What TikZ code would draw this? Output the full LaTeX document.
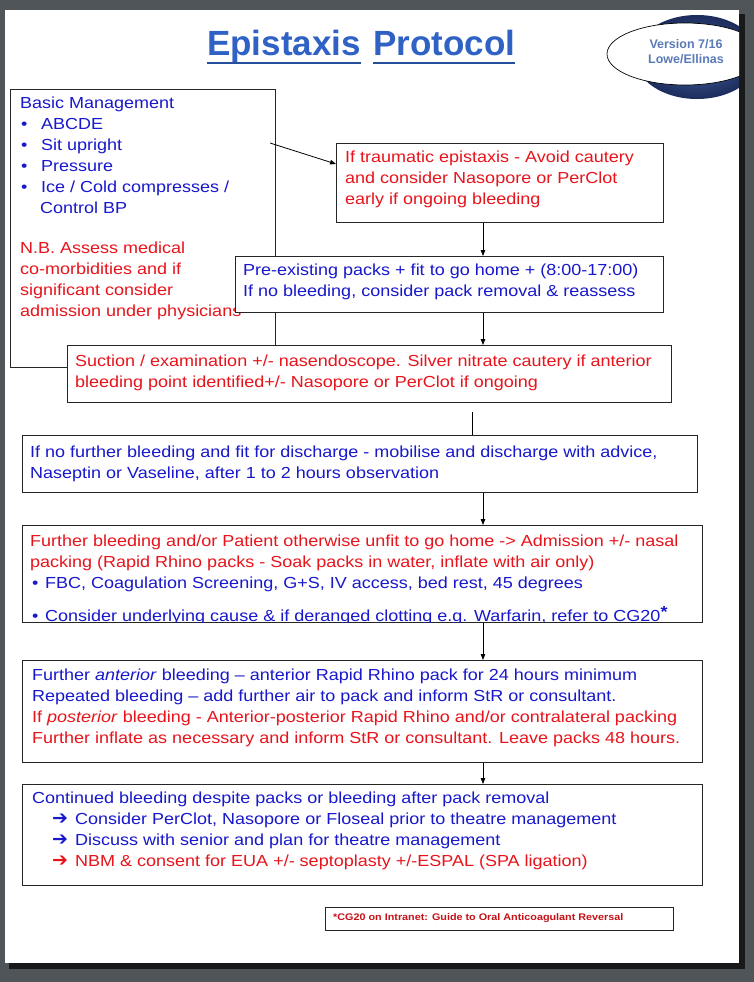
\documentclass[tikz,border=0pt]{standalone}
\usepackage{fontspec}
\setmainfont{Liberation Sans}[FakeStretch=1.125]
\newfontfamily\titlefont{Liberation Sans}
\newfontfamily\symfont{DejaVu Sans}
\usetikzlibrary{arrows.meta,positioning}
\definecolor{pgred}{HTML}{E8141C}
\definecolor{pgblue}{HTML}{1818CC}
\definecolor{titleblue}{HTML}{2F62C4}
\definecolor{verblue}{HTML}{5A7AB8}
\definecolor{desk}{HTML}{50555A}
\definecolor{ballin}{HTML}{4A6AA8}
\definecolor{ballout}{HTML}{1C2C5C}
\tikzset{
  box/.style={draw=black!85, line width=0.8pt, fill=white, anchor=north west, inner sep=0pt},
  txt/.style={anchor=north west, align=left, inner sep=0pt, font=\fontsize{16}{21}\selectfont},
  flow/.style={-{Triangle[length=6pt,width=4.5pt]}, line width=0.8pt},
}
\newcommand{\bul}{\makebox[20pt][l]{\textbullet}}
\newcommand{\arr}[1]{\hspace*{20pt}\makebox[23pt][l]{\textcolor{#1}{\fontsize{19}{21}\symfont\bfseries ➔}}}
\begin{document}
\begin{tikzpicture}[x=1pt, y=-1pt]
    % Desk and page
    \fill[desk] (0,0) rectangle (754,982);
    \fill[black!70!desk] (9,14) rectangle (745,969);
    \fill[white] (5,10) rectangle (739,963);
    \useasboundingbox (0,0) rectangle (754,982);

    % Title
    \node[anchor=base west, inner sep=0pt, font=\fontsize{35}{35}\titlefont\bfseries, text=titleblue] (title-a) at (207,56) {Epistaxis};
    \node[anchor=base west, inner sep=0pt, font=\fontsize{35}{35}\titlefont\bfseries, text=titleblue] (title-b) at (373,56) {Protocol};
    \draw[titleblue!80!black, line width=2.5pt] ([yshift=-7pt]title-a.base west) -- ([yshift=-7pt]title-a.base east);
    \draw[titleblue!80!black, line width=2.5pt] ([yshift=-7pt]title-b.base west) -- ([yshift=-7pt]title-b.base east);

    % Version label
    \begin{scope}
        \clip (5,10) rectangle (739,963);
        \shade[inner color=ballin, outer color=ballout] (697,57) ellipse [x radius=62, y radius=42];
        \draw[fill=white, line width=0.7pt] (685,54) ellipse [x radius=78, y radius=31];
    \end{scope}
    \node[align=center, inner sep=0pt, font=\fontsize{12.5}{15}\titlefont\bfseries, text=verblue] (version) at (686,52) {Version 7/16\\Lowe/Ellinas};

    % Basic management
    \node[box, minimum width=265pt, minimum height=278pt] (basic) at (10,89) {};
    \node[txt] (basic-t) at (20,97) {\textcolor{pgblue}{Basic Management}\\
        \textcolor{pgblue}{\hspace*{1pt}\bul ABCDE}\\
        \textcolor{pgblue}{\hspace*{1pt}\bul Sit upright}\\
        \textcolor{pgblue}{\hspace*{1pt}\bul Pressure}\\
        \textcolor{pgblue}{\hspace*{1pt}\bul Ice / Cold compresses /}\\
        \textcolor{pgblue}{\hspace*{20pt}Control BP}\\[19pt]
        \textcolor{pgred}{N.B. Assess medical}\\
        \textcolor{pgred}{co-morbidities and if}\\
        \textcolor{pgred}{significant consider}\\
        \textcolor{pgred}{admission under physicians}};

    % Traumatic epistaxis
    \node[box, minimum width=327pt, minimum height=79pt] (trauma) at (336,143) {};
    \node[txt, text=pgred] (trauma-t) at (345,151) {If traumatic epistaxis - Avoid cautery\\and consider Nasopore or PerClot\\early if ongoing bleeding};

    % Pre-existing packs
    \node[box, minimum width=428pt, minimum height=56pt] (packs) at (235,256) {};
    \node[txt, text=pgblue] (packs-t) at (243,264) {Pre-existing packs + fit to go home + (8:00-17:00)\\If no bleeding, consider pack removal \& reassess};

    % Suction / examination
    \node[box, minimum width=604pt, minimum height=57pt] (suction) at (67,345) {};
    \node[txt, text=pgred] (suction-t) at (75,355) {Suction / examination +/- nasendoscope. Silver nitrate cautery if anterior\\bleeding point identified+/- Nasopore or PerClot if ongoing};

    % Discharge
    \node[box, minimum width=675pt, minimum height=57pt] (discharge) at (22,435) {};
    \node[txt, text=pgblue] (discharge-t) at (30,446) {If no further bleeding and fit for discharge - mobilise and discharge with advice,\\Naseptin or Vaseline, after 1 to 2 hours observation};

    % Admission (last line runs into the frame)
    \node[box, minimum width=680pt, minimum height=97pt] (admit) at (22,525) {};
    \begin{scope}
        \clip (admit.north west) rectangle (admit.south east);
        \node[txt] (admit-t) at (30,535) {\textcolor{pgred}{Further bleeding and/or Patient otherwise unfit to go home -> Admission +/- nasal}\\
            \textcolor{pgred}{packing (Rapid Rhino packs - Soak packs in water, inflate with air only)}\\
            \textcolor{pgblue}{\hspace*{2pt}\makebox[13pt][l]{\textbullet}FBC, Coagulation Screening, G+S, IV access, bed rest, 45 degrees}\\[12pt]
            \textcolor{pgblue}{\hspace*{2pt}\makebox[13pt][l]{\textbullet}Consider underlying cause \& if deranged clotting e.g. Warfarin, refer to CG20\raisebox{4pt}{\bfseries *}}};
    \end{scope}

    % Rapid Rhino packing
    \node[box, minimum width=680pt, minimum height=102pt] (rhino) at (22,660) {};
    \node[txt] (rhino-t) at (32,669) {\textcolor{pgblue}{Further \textit{anterior} bleeding – anterior Rapid Rhino pack for 24 hours minimum}\\
        \textcolor{pgblue}{Repeated bleeding – add further air to pack and inform StR or consultant.}\\
        \textcolor{pgred}{If \textit{posterior} bleeding - Anterior-posterior Rapid Rhino and/or contralateral packing}\\
        \textcolor{pgred}{Further inflate as necessary and inform StR or consultant. Leave packs 48 hours.}};

    % Theatre
    \node[box, minimum width=680pt, minimum height=101pt] (theatre) at (22,784) {};
    \node[txt] (theatre-t) at (32,792) {\textcolor{pgblue}{Continued bleeding despite packs or bleeding after pack removal}\\
        \arr{pgblue}\textcolor{pgblue}{Consider PerClot, Nasopore or Floseal prior to theatre management}\\
        \arr{pgblue}\textcolor{pgblue}{Discuss with senior and plan for theatre management}\\
        \arr{pgred}\textcolor{pgred}{NBM \& consent for EUA +/- septoplasty +/-ESPAL (SPA ligation)}};

    % Footnote
    \node[box, minimum width=348pt, minimum height=23pt] (note) at (325,907) {};
    \node[anchor=west, inner sep=0pt, font=\fontsize{9.6}{11}\selectfont\bfseries, text=pgred!85!black] (note-t) at (333,918.5) {*CG20 on Intranet: Guide to Oral Anticoagulant Reversal};

    % Connectors
    \coordinate (bm-out) at (270,143);
    \coordinate (mid) at (483,0);
    \coordinate (gap) at (472,412);
    \draw[flow] (bm-out) -- ([yshift=-21pt]trauma.north west);
    \draw[flow] (trauma.south -| mid) -- (packs.north -| mid);
    \draw[flow] (packs.south -| mid) -- (suction.north -| mid);
    \draw[line width=0.8pt] (gap) -- (gap |- discharge.north);
    \draw[flow] (discharge.south -| mid) -- (admit.north -| mid);
    \draw[flow] (admit.south -| mid) -- (rhino.north -| mid);
    \draw[flow] (rhino.south -| mid) -- (theatre.north -| mid);
\end{tikzpicture}
\end{document}
